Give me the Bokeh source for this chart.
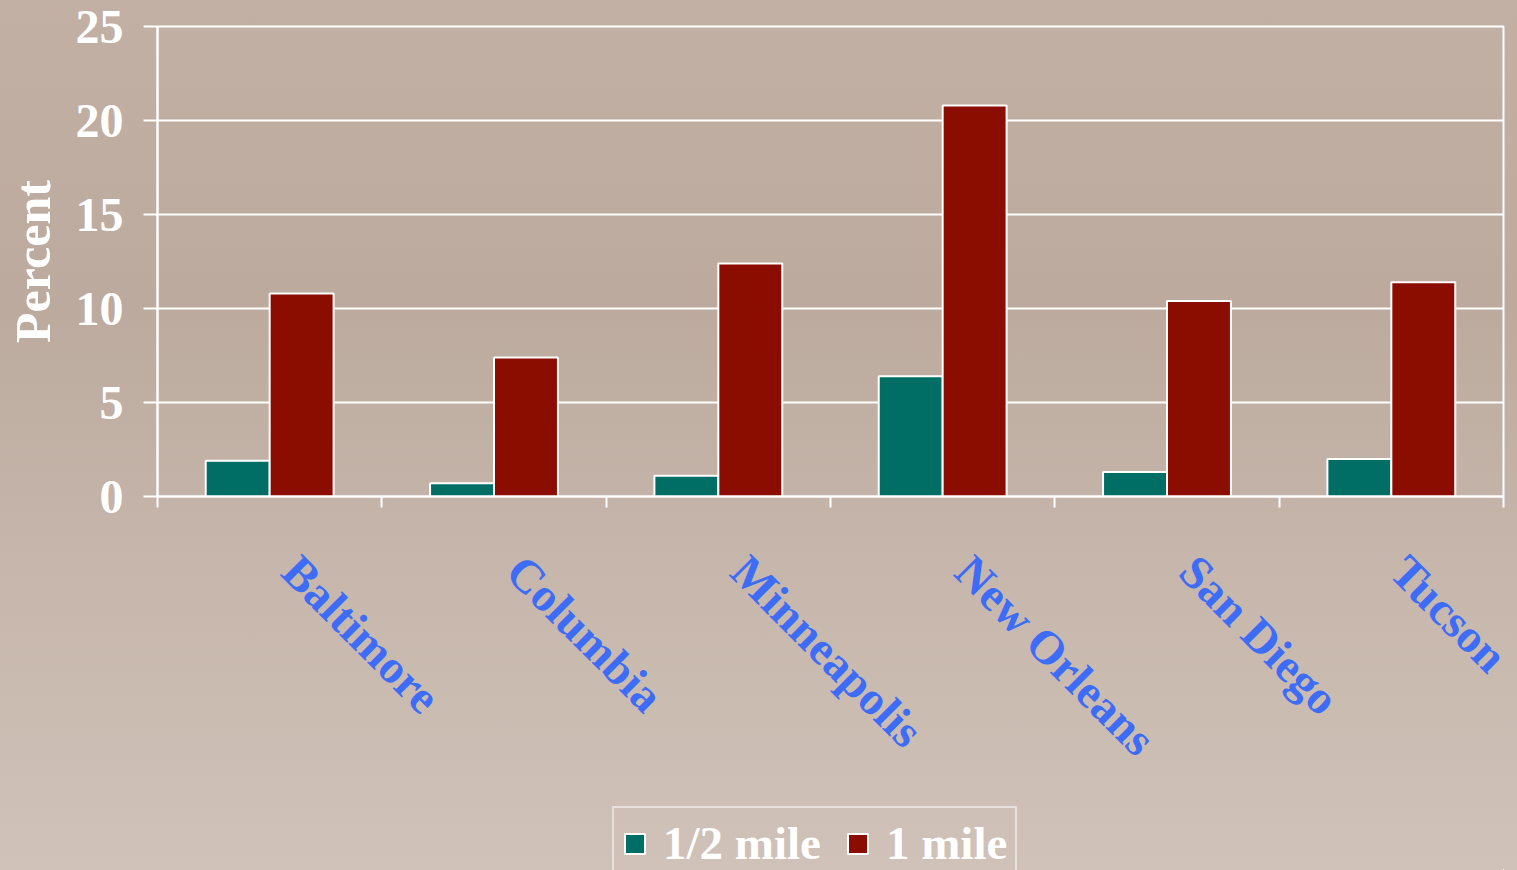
import math
from bokeh.plotting import figure
from bokeh.layouts import column
from bokeh.models import (ColumnDataSource, Range1d, FixedTicker, Legend, LegendItem)
from bokeh.transform import dodge
from bokeh.embed import file_html
from bokeh.resources import INLINE

# Share of trips within each walking distance, by city
cities = ["Baltimore", "Columbia", "Minneapolis", "New Orleans", "San Diego", "Tucson"]
half_mile = [1.9, 0.7, 1.1, 6.4, 1.3, 2.0]
one_mile = [10.8, 7.4, 12.4, 20.8, 10.4, 11.4]
y_ticks = [0, 5, 10, 15, 20, 25]
series_names = ["1/2 mile", "1 mile"]

FONT = "Liberation Serif"
TEAL = "#006e64"
RED = "#8b0d00"
BLUE = "#3d6cf7"
WHITE = "#ffffff"

# each city occupies one unit slot; its group is centred in the slot
centers = [i + 0.5 for i in range(len(cities))]
edges = list(range(len(cities) + 1))
label_pos = [c + 0.093 for c in centers]
source = ColumnDataSource(dict(x=centers, city=cities, half=half_mile, one=one_mile))

p = figure(
    width=1517, height=806,
    x_range=Range1d(0, len(cities)),
    y_range=Range1d(0, 25),
    output_backend="svg", toolbar_location=None,
    x_axis_location="below", y_axis_location="left",
    min_border_left=157, min_border_right=14,
    min_border_top=26, min_border_bottom=310,
)
p.background_fill_alpha = 0
p.border_fill_alpha = 0
p.outline_line_color = WHITE
p.outline_line_width = 2

r_half = p.vbar(x=dodge("x", -0.1425), top="half", width=0.285,
                source=source, fill_color=TEAL, line_color=WHITE, line_width=2)
r_one = p.vbar(x=dodge("x", 0.1425), top="one", width=0.285,
               source=source, fill_color=RED, line_color=WHITE, line_width=2)

# y axis
p.yaxis.ticker = FixedTicker(ticks=y_ticks)
p.yaxis.axis_label = "Percent"
p.yaxis.axis_label_text_font = FONT
p.yaxis.axis_label_text_font_style = "bold"
p.yaxis.axis_label_text_font_size = "50px"
p.yaxis.axis_label_text_color = WHITE
p.yaxis.axis_label_standoff = 12
p.yaxis.major_label_text_font = FONT
p.yaxis.major_label_text_font_style = "bold"
p.yaxis.major_label_text_font_size = "48px"
p.yaxis.major_label_text_color = WHITE
p.yaxis.major_label_standoff = 20
p.yaxis.axis_line_color = WHITE
p.yaxis.axis_line_width = 2
p.yaxis.major_tick_line_color = WHITE
p.yaxis.major_tick_line_width = 2
p.yaxis.major_tick_out = 14
p.yaxis.major_tick_in = 0
p.yaxis.minor_tick_line_color = None

p.xgrid.grid_line_color = None
p.ygrid.ticker = FixedTicker(ticks=y_ticks)
p.ygrid.grid_line_color = WHITE
p.ygrid.grid_line_width = 2

# x axis: city names slanted, short marks between the city groups
xa = p.xaxis[0]
xa.ticker = FixedTicker(ticks=label_pos, minor_ticks=edges)
xa.major_label_overrides = {c: name for c, name in zip(label_pos, cities)}
xa.axis_line_color = WHITE
xa.axis_line_width = 2
xa.major_tick_line_color = None
xa.major_tick_out = 0
xa.major_tick_in = 0
xa.minor_tick_line_color = WHITE
xa.minor_tick_line_width = 2
xa.minor_tick_out = 11
xa.minor_tick_in = 0
xa.major_label_orientation = -math.pi / 4
xa.major_label_text_font = FONT
xa.major_label_text_font_style = "bold"
xa.major_label_text_font_size = "47px"
xa.major_label_text_color = BLUE
xa.major_label_standoff = 56

# legend strip under the chart; its key glyphs share the chart's data,
# with the strip's ranges lying wholly away from the bars in both directions
lg = figure(
    width=1517, height=64,
    x_range=Range1d(-3, -2), y_range=Range1d(100, 101),
    output_backend="svg", toolbar_location=None,
    x_axis_location=None, y_axis_location=None,
    min_border=0,
)
lg.background_fill_alpha = 0
lg.border_fill_alpha = 0
lg.outline_line_color = None
lg.grid.grid_line_color = None
k_half = lg.vbar(x="x", top="half", width=0.285, source=source,
                 fill_color=TEAL, line_color=WHITE, line_width=2)
k_one = lg.vbar(x="x", top="one", width=0.285, source=source,
                fill_color=RED, line_color=WHITE, line_width=2)

legend = Legend(items=[LegendItem(label=series_names[0], renderers=[k_half]),
                       LegendItem(label=series_names[1], renderers=[k_one])],
                orientation="horizontal", location=(455, -10),
                background_fill_alpha=0,
                border_line_color=WHITE, border_line_width=2,
                label_text_font=FONT, label_text_font_style="bold",
                label_text_font_size="47px", label_text_color=WHITE,
                glyph_width=25, glyph_height=25, label_standoff=16,
                spacing=24, padding=8, margin=0)
lg.add_layout(legend, "center")

page = column(p, lg, spacing=0)
page.styles = {"background": "linear-gradient(to bottom, #c2b0a5 0%, #bcaa9e 35%, #c6b6ab 65%, #d0c2b9 100%)"}

open("out.html", "w").write(file_html(page, INLINE))
